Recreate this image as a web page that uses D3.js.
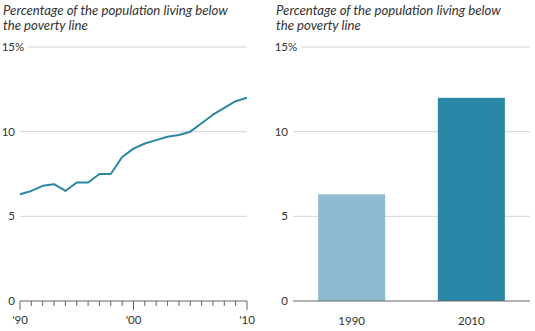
<!DOCTYPE html>
<html>
<head>
<meta charset="utf-8">
<script src="https://cdn.jsdelivr.net/npm/d3@7"></script>
<style>
  body { margin: 0; background: #fff; }
  svg text { font-family: Lato, "Open Sans", sans-serif; fill: #333; }
</style>
</head>
<body>
<svg id="chart" width="535" height="331"></svg>
<script>
// poverty rate by year (line chart, left)
var years = [1990, 1991, 1992, 1993, 1994, 1995, 1996, 1997, 1998, 1999, 2000,
             2001, 2002, 2003, 2004, 2005, 2006, 2007, 2008, 2009, 2010];
var rates = [6.3, 6.5, 6.8, 6.9, 6.5, 7.0, 7.0, 7.5, 7.5, 8.5, 9.0,
             9.3, 9.5, 9.7, 9.8, 10.0, 10.5, 11.0, 11.4, 11.8, 12.0];
var yearLabels = ["'90", "'00", "'10"];

// two-point comparison (bar chart, right)
var barYears = ["1990", "2010"];
var barValues = [6.3, 12.0];
var barColors = ["#8fbbd0", "#2887a6"];

var yTicks = [0, 5, 10, 15];
var title = ["Percentage of the population living below", "the poverty line"];

var svg = d3.select("#chart");
var plotTop = 47, plotBottom = 301;

function drawPanel(g, left, alignX, right) {
    var y = d3.scaleLinear().domain([0, 15]).range([plotBottom, plotTop]);

    // title, two lines
    title.forEach(function (line, i) {
        g.append('text')
            .attr('x', left)
            .attr('y', 15 + i * 15)
            .style('font-size', '13.2px')
            .style('font-style', 'italic')
            .text(line);
    });

    // y labels and grid
    yTicks.forEach(function (v) {
        g.append('text')
            .attr('x', alignX)
            .attr('y', y(v) + 4)
            .attr('text-anchor', 'end')
            .style('font-size', '11.5px')
            .text(v);
        var gx = alignX + 5;
        if (v === 15) {
            var pct = g.append('text')
                .attr('x', alignX)
                .attr('y', y(v) + 4)
                .style('font-size', '11.5px')
                .text('%');
            gx = alignX + pct.node().getComputedTextLength() + 4;
        }
        if (v > 0) {
            g.append('line')
                .attr('x1', gx).attr('x2', right)
                .attr('y1', y(v)).attr('y2', y(v))
                .style('stroke', '#d4d4d4')
                .style('stroke-width', 1);
        }
    });
    return y;
}

// ---- left: line chart
var yL = drawPanel(svg.append('g'), 3, 15, 247);
var xL = d3.scaleLinear().domain([1990, 2010]).range([20, 247]);

var axisG = svg.append('g');
axisG.append('line')
    .attr('x1', xL(1990)).attr('x2', xL(2010))
    .attr('y1', plotBottom).attr('y2', plotBottom)
    .style('stroke', '#666');
axisG.selectAll('.tk').data(years).enter().append('line')
    .attr('x1', d => xL(d)).attr('x2', d => xL(d))
    .attr('y1', plotBottom).attr('y2', d => plotBottom + (d % 10 === 0 ? 9 : 5))
    .style('stroke', '#666');
axisG.selectAll('.lab').data([1990, 2000, 2010]).enter().append('text')
    .attr('x', d => xL(d))
    .attr('y', 324)
    .attr('text-anchor', 'middle')
    .style('font-size', '11.5px')
    .text((d, i) => yearLabels[i]);

var line = d3.line().x((d, i) => xL(years[i])).y(d => yL(d));
svg.append('path')
    .datum(rates)
    .attr('d', line)
    .style('fill', 'none')
    .style('stroke', '#2a87a4')
    .style('stroke-width', 2)
    .style('stroke-linejoin', 'round');

// ---- right: bar chart
var yR = drawPanel(svg.append('g'), 276, 288, 530);
var xR = d3.scaleBand().domain(barYears).range([293, 530]).paddingInner(0.44).paddingOuter(0.21);

svg.selectAll('.bar').data(barValues).enter().append('rect')
    .attr('x', (d, i) => xR(barYears[i]))
    .attr('y', d => yR(d))
    .attr('width', xR.bandwidth())
    .attr('height', d => yR(0) - yR(d))
    .style('fill', (d, i) => barColors[i]);

svg.append('line')
    .attr('x1', 293).attr('x2', 530)
    .attr('y1', plotBottom).attr('y2', plotBottom)
    .style('stroke', '#666');

svg.selectAll('.blab').data(barYears).enter().append('text')
    .attr('x', d => xR(d) + xR.bandwidth() / 2)
    .attr('y', 325)
    .attr('text-anchor', 'middle')
    .style('font-size', '11.5px')
    .text(d => d);
</script>
</body>
</html>
